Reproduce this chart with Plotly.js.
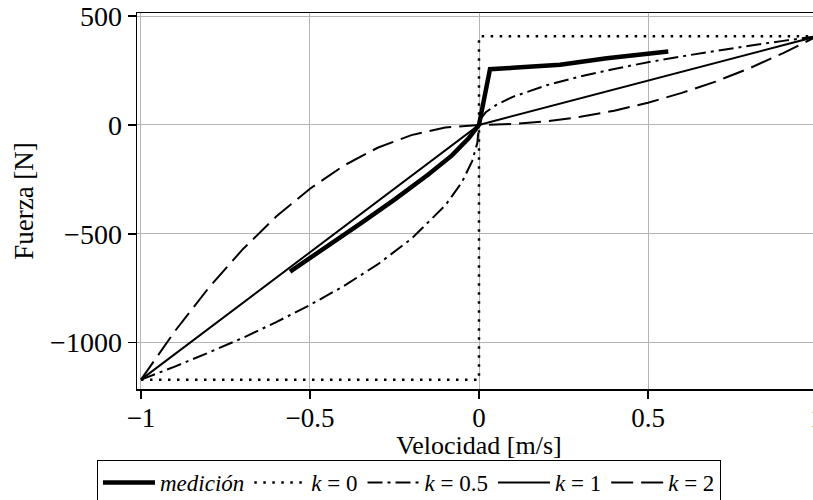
<!DOCTYPE html>
<html>
<head>
<meta charset="utf-8">
<script src="https://cdn.plot.ly/plotly-3.0.1.min.js"></script>
<style>
html,body{margin:0;padding:0;overflow:hidden;background:#fff;}
#chart{width:821px;height:500px;}
</style>
</head>
<body>
<div id="chart"></div>
<script>
// Measured curve
const medV = [-0.559, -0.45, -0.35, -0.25, -0.15, -0.08, -0.03, 0, 0.0325, 0.10, 0.24, 0.378, 0.496, 0.56];
const medF = [-674, -560, -452, -343, -228, -140, -60, 0, 256, 262, 276, 306, 329, 337];

// k = 0 (step)
const k0V = [-1, 0, 0, 1];
const k0F = [-1170, -1170, 407, 407];

// k = 0.5
const k05V = [-1, -0.9, -0.8, -0.7, -0.6, -0.5, -0.4, -0.3, -0.2, -0.1, -0.05, -0.02, -0.005, 0, 0.005, 0.02, 0.05, 0.1, 0.2, 0.3, 0.4, 0.5, 0.6, 0.7, 0.8, 0.9, 1];
const k05F = [-1170, -1110, -1046, -979, -906, -827, -740, -641, -523, -370, -262, -165, -83, 0, 29, 58, 91, 129, 182, 223, 257, 288, 315, 341, 364, 386, 407];

// k = 1
const k1V = [-1, 0, 1];
const k1F = [-1170, 0, 407];

// k = 2
const k2V = [-1, -0.9, -0.8, -0.7, -0.6, -0.5, -0.4, -0.3, -0.2, -0.1, 0, 0.1, 0.2, 0.3, 0.4, 0.5, 0.6, 0.7, 0.8, 0.9, 1];
const k2F = [-1170, -948, -749, -573, -421, -293, -187, -105, -47, -12, 0, 4, 16, 37, 65, 102, 147, 199, 260, 330, 407];

const xTickVals = [-1, -0.5, 0, 0.5, 1];
const xTickText = ['\u22121', '\u22120.5', '0', '0.5', '1'];
const yTickVals = [-1000, -500, 0, 500];
const yTickText = ['\u22121000', '\u2212500', '0', '500'];

const serif = '"Liberation Serif", "Times New Roman", Times, serif';

const traces = [
  {x: medV, y: medF, mode: 'lines', name: '<i>medición</i>',
   line: {color: '#000', width: 4.5}},
  {x: k0V, y: k0F, mode: 'lines', name: '<i>k</i> = 0',
   line: {color: '#000', width: 2.5, dash: '2.5px,6.5px'}},
  {x: k05V, y: k05F, mode: 'lines', name: '<i>k</i> = 0.5',
   line: {color: '#000', width: 2, dash: '15px,5px,3px,5px'}},
  {x: k1V, y: k1F, mode: 'lines', name: '<i>k</i> = 1',
   line: {color: '#000', width: 2}},
  {x: k2V, y: k2F, mode: 'lines', name: '<i>k</i> = 2',
   line: {color: '#000', width: 2, dash: '22px,8px'}}
];

const layout = {
  width: 821, height: 500,
  margin: {l: 137, r: 0, t: 13, b: 111},
  paper_bgcolor: '#fff', plot_bgcolor: '#fff',
  font: {family: serif, color: '#000', size: 26},
  showlegend: true,
  xaxis: {
    range: [-1.0118, 1.0118],
    tickvals: xTickVals, ticktext: xTickText,
    ticks: 'outside', ticklen: 8, tickwidth: 1.5, tickcolor: '#000',
    showline: true, linecolor: '#000', linewidth: 1.5, mirror: true,
    showgrid: true, gridcolor: '#b4b4b4', gridwidth: 1,
    zeroline: false,
    ticklabeloverflow: 'allow',
    ticklabelstandoff: -4,
    tickfont: {family: serif, size: 27},
    title: {text: 'Velocidad [m/s]', font: {family: serif, size: 26}, standoff: 9},
    automargin: false
  },
  yaxis: {
    range: [-1213, 514],
    tickvals: yTickVals, ticktext: yTickText,
    ticks: 'outside', ticklen: 8, tickwidth: 1.5, tickcolor: '#000',
    showline: true, linecolor: '#000', linewidth: 1.5, mirror: true,
    showgrid: true, gridcolor: '#b4b4b4', gridwidth: 1,
    zeroline: false,
    tickfont: {family: serif, size: 28},
    title: {text: 'Fuerza [N]', font: {family: serif, size: 27}, standoff: 8},
    automargin: false
  },
  legend: {
    orientation: 'h',
    xref: 'container', yref: 'container',
    x: 97 / 821, xanchor: 'left',
    y: 40 / 500, yanchor: 'top',
    bordercolor: '#000', borderwidth: 1,
    bgcolor: '#fff',
    font: {family: serif, size: 23},
    itemwidth: 52,
    tracegroupgap: 0
  }
};

Plotly.newPlot('chart', traces, layout, {displayModeBar: false, staticPlot: true});
</script>
</body>
</html>
